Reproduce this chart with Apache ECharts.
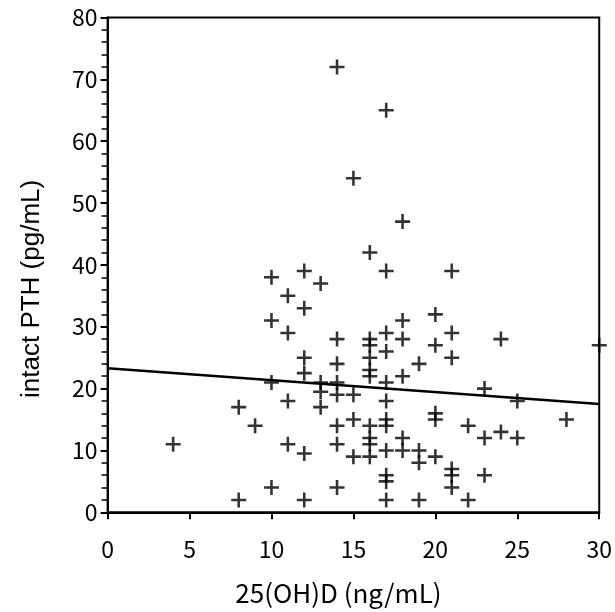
<!DOCTYPE html>
<html>
<head>
<meta charset="utf-8">
<script src="https://cdn.jsdelivr.net/npm/echarts@6/dist/echarts.min.js"></script>
<style>html,body{margin:0;padding:0;background:#fff}#c{width:615px;height:612px}</style>
</head>
<body>
<div id="c"></div>
<script>
// 25(OH)D (ng/mL) values, grouped by column
var xVals = [4, 8, 9, 10, 11, 12, 13, 14, 15, 16, 17, 18, 19, 20, 21, 22, 23, 24, 25, 28, 30];
// intact PTH (pg/mL) values for each x column
var yVals = [
  [11],
  [17, 2],
  [14],
  [38, 31, 21, 4],
  [35, 29, 18, 11],
  [39, 33, 25, 22.5, 9.5, 2],
  [37, 21, 19.5, 17],
  [72, 28, 24, 21, 19, 14, 11, 4],
  [54, 19, 15, 9],
  [42, 28, 27, 25, 23, 22, 14, 12, 11, 9],
  [65, 39, 29, 26, 21, 18, 15, 14, 10, 6, 5, 2],
  [47, 31, 28, 22, 12, 10],
  [24, 10, 8, 2],
  [32, 27, 16, 15, 9],
  [39, 29, 25, 7, 6, 4],
  [14, 2],
  [20, 12, 6],
  [28, 13],
  [18, 12],
  [15],
  [27]
];
// regression line end points
var fitX = [0, 30];
var fitY = [23.3, 17.5];
var xTicks = [0, 5, 10, 15, 20, 25, 30];
var yTicks = [0, 10, 20, 30, 40, 50, 60, 70, 80];

var points = [];
xVals.forEach(function (x, i) { yVals[i].forEach(function (y) { points.push([x, y]); }); });
var fitLine = fitX.map(function (x, i) { return [x, fitY[i]]; });

var tickFont = "'Noto Sans CJK JP', sans-serif";
var chart = echarts.init(document.getElementById('c'), null, {renderer: 'canvas'});
chart.setOption({
  animation: false,
  backgroundColor: '#fff',
  grid: {left: 107.6, right: 10.5, top: 17.5, bottom: 99.7, show: true, borderColor: '#000', borderWidth: 2, backgroundColor: 'transparent'},
  xAxis: {
    type: 'value', min: xTicks[0], max: xTicks[xTicks.length - 1], interval: 5,
    name: '25(OH)D (ng/mL)', nameLocation: 'middle', nameGap: 68,
    nameTextStyle: {fontFamily: tickFont, fontSize: 26, color: '#000', padding: [0, 30, 0, 0]},
    axisLine: {show: true, lineStyle: {color: '#000', width: 2}},
    axisTick: {show: true, length: 7, lineStyle: {color: '#000', width: 2}},
    axisLabel: {fontFamily: tickFont, fontSize: 23, color: '#000', margin: 25},
    splitLine: {show: false}
  },
  yAxis: {
    type: 'value', min: yTicks[0], max: yTicks[yTicks.length - 1], interval: 10,
    name: 'intact PTH (pg/mL)', nameLocation: 'middle', nameGap: 63, nameRotate: 90,
    nameTextStyle: {fontFamily: "'Liberation Sans', Arial, sans-serif", fontSize: 26, color: '#000', padding: [0, 48, 0, 0]},
    axisLine: {show: true, lineStyle: {color: '#000', width: 2}},
    axisTick: {show: true, length: 7, lineStyle: {color: '#000', width: 2}},
    minorTick: {show: true, splitNumber: 5, length: 6, lineStyle: {color: '#000', width: 1.5}},
    axisLabel: {fontFamily: tickFont, fontSize: 23, color: '#000', margin: 10},
    splitLine: {show: false}
  },
  series: [
    {
      type: 'scatter', data: points,
      symbol: 'path://M0,5.8H14V8.2H0Z M5.8,0H8.2V14H5.8Z', symbolSize: [15, 15],
      itemStyle: {color: '#000'}
    },
    {
      type: 'line', data: fitLine, symbol: 'none',
      lineStyle: {color: '#000', width: 2.5}
    }
  ]
});
</script>
</body>
</html>
